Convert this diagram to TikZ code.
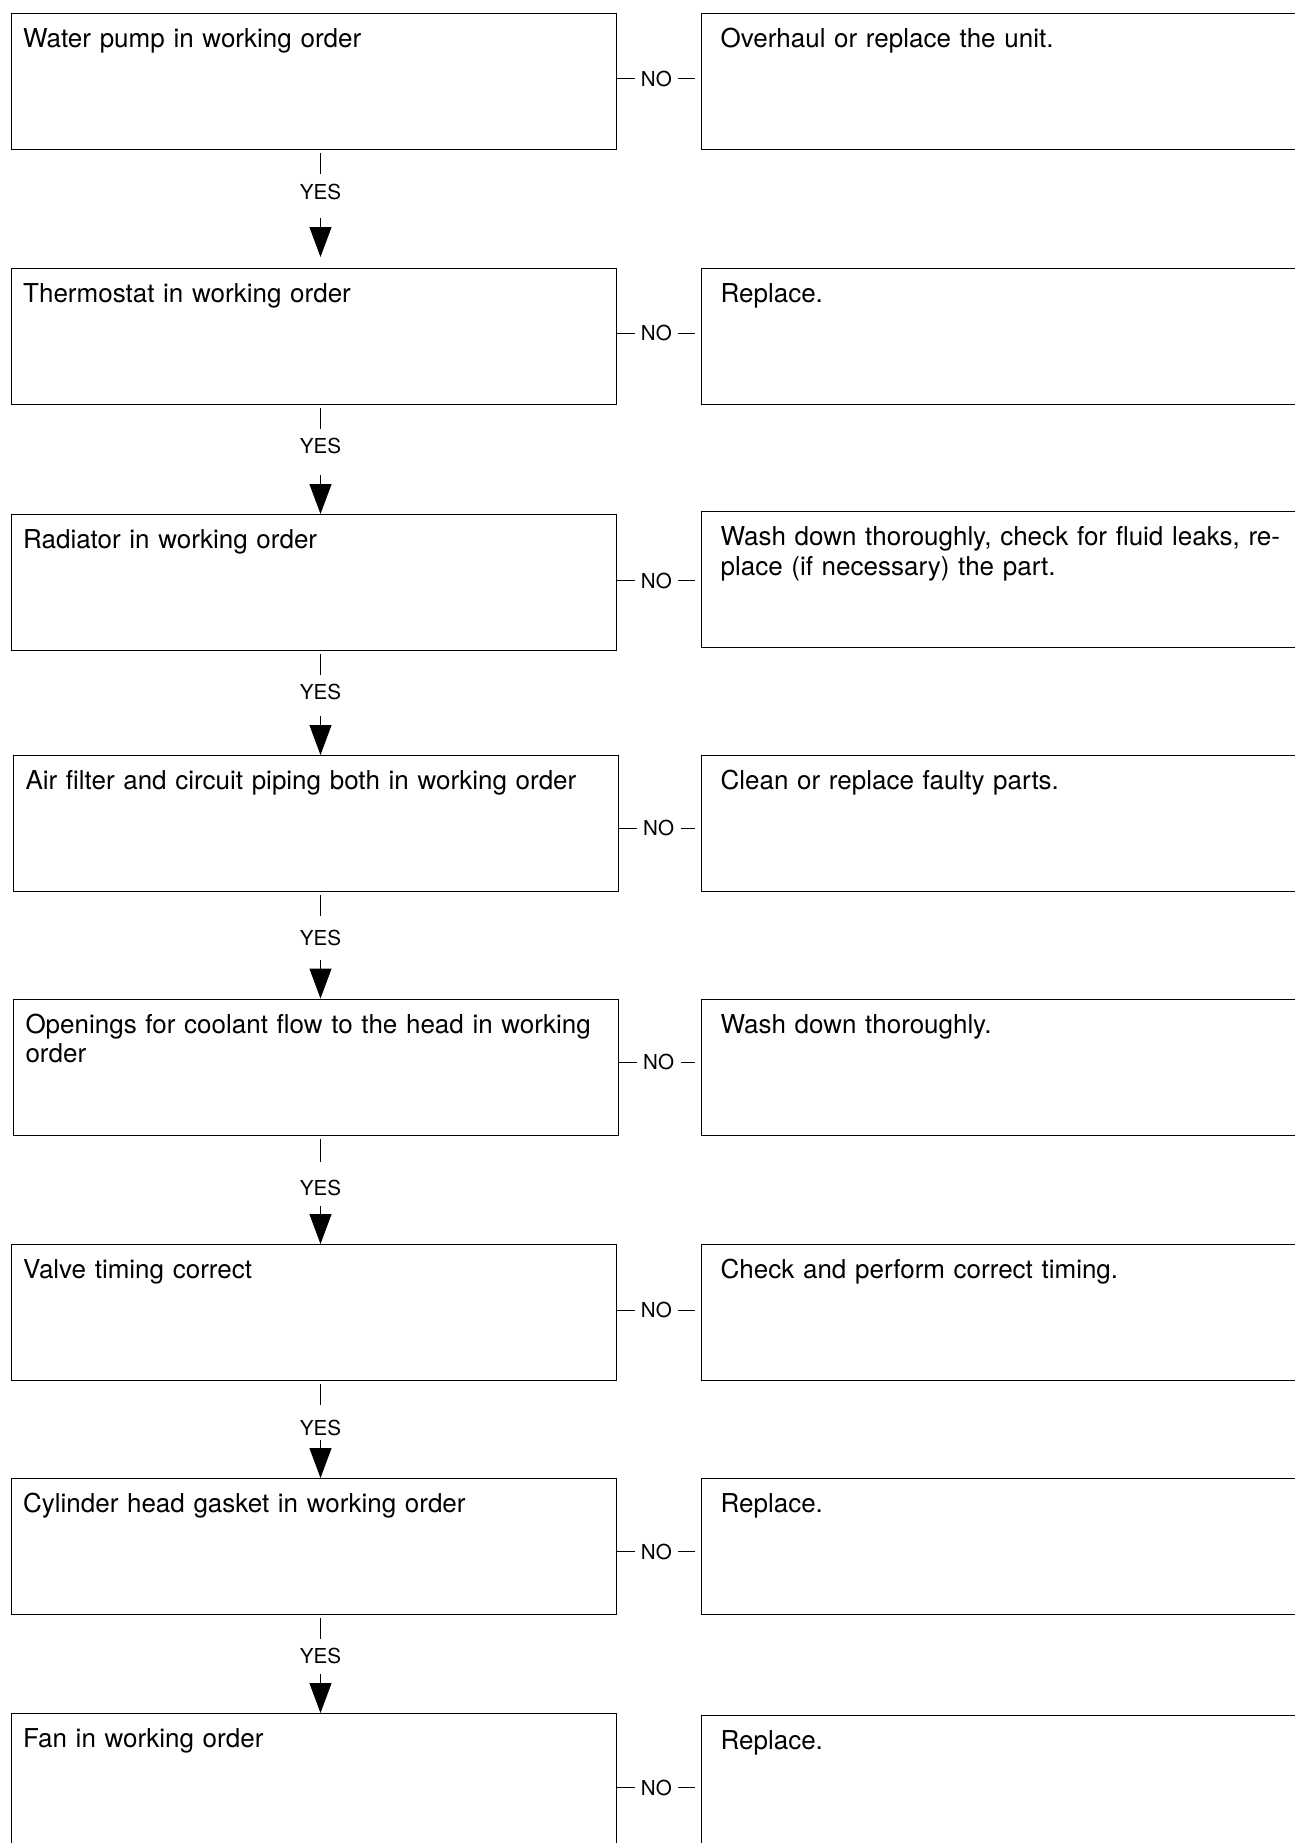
\documentclass[tikz,border=0pt]{standalone}
\usepackage{fontspec}
\setmainfont{TeX Gyre Heros}
\usetikzlibrary{positioning,arrows.meta}

\begin{document}
\begin{tikzpicture}[x=0.5pt,y=-0.5pt,
    check/.style={draw,line width=0.6pt,anchor=north west,align=left,
      font=\fontsize{13}{14.7}\selectfont,inner xsep=6pt,inner ysep=0pt,
      text width=290.6pt,text height=17pt,text depth=51pt},
    fix/.style={check,inner xsep=9.5pt,text width=330pt},
    lbl/.style={inner sep=0pt,font=\fontsize{10.3}{12}\selectfont},
    nolbl/.style={lbl,inner xsep=3pt},
    yesarrow/.style={line width=0.5pt,-{Triangle[length=15pt,width=11pt]}}]
  \useasboundingbox (0,0) rectangle (1295,1843);
  \clip (0,0) rectangle (1295,1843);

  \foreach \i/\x/\y/\ry/\ny/\ltext/\rtext in {
      1/10.6/12.5/12.5/1.1pt/{Water pump in working order}/{Overhaul or replace the unit.},
      2/10.6/268/268/1.75pt/{Thermostat in working order}/{Replace.},
      3/10.6/514/511/1pt/{Radiator in working order}/{Wash down thoroughly, check for fluid leaks, re-\\place (if necessary) the part.},
      4/12.9/755/754.7/-2.35pt/{Air filter and circuit piping both in working order}/{Clean or replace faulty parts.},
      5/12.9/998.5/998.5/2.5pt/{Openings for coolant flow to the head in working\\order}/{Wash down thoroughly.},
      6/10.6/1244/1244/1.25pt/{Valve timing correct}/{Check and perform correct timing.},
      7/10.6/1478/1478/-2.5pt/{Cylinder head gasket in working order}/{Replace.},
      8/10.6/1713/1715/-3pt/{Fan in working order}/{Replace.}} {
    \node[check] (l\i) at (\x,\y) {\ltext};
    \node[fix] (r\i) at (701,\ry) {\rtext};
    \node[nolbl,right=8.75pt of l\i,yshift=\ny] (n\i) {NO};
    \draw[line width=0.5pt] (n\i.west -| l\i.east) -- (n\i.west);
    \draw[line width=0.5pt,shorten >=3pt] (n\i.east) -- (n\i.east -| r\i.west);
  }

  \foreach \i/\j/\yy/\sh/\ay/\gap in {1/2/192/4.8pt/218/5.5pt,
      2/3/445.5/4pt/475/0pt, 3/4/692/4.3pt/716/0pt, 4/5/938/7pt/960/0pt,
      5/6/1188/8.8pt/1206/0pt, 6/7/1428/7.3pt/1440/0pt, 7/8/1656/4.3pt/1674/0pt} {
    \node[lbl] (y\i) at (320.5,\yy) {YES};
    \draw[line width=0.5pt,shorten <=1.5pt,shorten >=\sh] (y\i |- l\i.south) -- (y\i);
    \coordinate (a\j) at (320.5,\ay);
    \draw[yesarrow,shorten >=\gap] (a\j) -- (a\j |- l\j.north);
  }
\end{tikzpicture}
\end{document}
